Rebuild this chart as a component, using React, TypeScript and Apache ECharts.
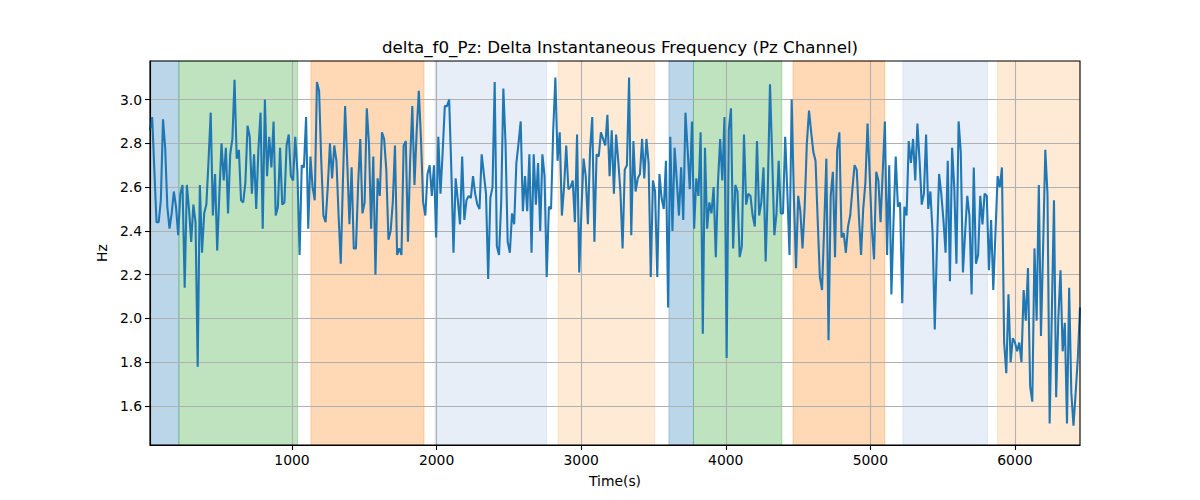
import React, { useEffect, useRef } from "react";
import * as echarts from "echarts";

const TITLE = "delta_f0_Pz: Delta Instantaneous Frequency (Pz Channel)";
const X_LABEL = "Time(s)";
const Y_LABEL = "Hz";

const T_START = 18;
const T_END = 6450;
const Y_MIN = 1.422;
const Y_MAX = 3.176;

const X_TICKS = [1000, 2000, 3000, 4000, 5000, 6000];
const Y_TICKS = [1.6, 1.8, 2.0, 2.2, 2.4, 2.6, 2.8, 3.0];

const VALUES_A = [
  2.86, 2.92, 2.68, 2.44, 2.44, 2.54, 2.91, 2.78, 2.51, 2.41, 2.48, 2.58, 2.51, 2.38, 2.57, 2.61, 2.14, 2.61, 2.5, 2.35,
  2.52, 2.44, 1.78, 2.61, 2.3, 2.48, 2.52, 2.72, 2.94, 2.47, 2.66, 2.31, 2.57, 2.8, 2.63, 2.78, 2.48, 2.75, 2.82, 3.09,
  2.73, 2.77, 2.54, 2.53, 2.62, 2.88, 2.83, 2.57, 2.75, 2.5, 2.77, 2.94, 2.41, 3.0, 2.65,
];
const VALUES_B = [
  2.83, 2.69, 2.9, 2.47, 2.51, 2.78, 2.52, 2.53, 2.79, 2.84, 2.65, 2.63, 2.83, 2.67, 2.29, 2.7, 2.69, 2.92, 2.41, 2.74,
  2.6, 2.54, 3.08, 3.04, 2.72, 2.47, 2.44, 2.6, 2.8, 2.64, 2.79, 2.72, 2.47, 2.25, 2.63, 2.97, 2.71, 2.43, 2.69, 2.32,
  2.32, 2.61, 2.82, 2.48, 2.53, 2.96, 2.8, 2.41, 2.74, 2.2, 2.64, 2.56, 2.85, 2.82,
];
const VALUES_C = [
  2.68, 2.36, 2.4, 2.53, 2.79, 2.29, 2.32, 2.29, 2.79, 2.81, 2.35, 2.72, 2.97, 2.61, 2.85, 3.04, 2.82, 2.53, 2.47, 2.66,
  2.7, 2.56, 2.7, 2.37, 2.83, 2.57, 2.76, 2.97, 2.97, 3.0, 2.68, 2.3, 2.64, 2.54, 2.43, 2.74, 2.45, 2.54, 2.56, 2.55,
  2.65, 2.57, 2.52, 2.5, 2.75, 2.66, 2.57, 2.18, 2.55, 2.6, 3.08, 2.33, 2.29,
];
const VALUES_D = [
  2.53, 3.05, 2.8, 2.35, 2.3, 2.48, 2.43, 2.71, 2.8, 2.9, 2.49, 2.65, 2.49, 2.75, 2.3, 2.75, 2.52, 2.71, 2.4, 2.75,
  2.65, 2.19, 2.51, 2.5, 2.86, 3.1, 2.72, 2.85, 2.47, 2.6, 2.79, 2.59, 2.6, 2.63, 2.44, 2.84, 2.21, 2.49, 2.73, 2.65,
  2.43, 2.77, 2.92, 2.35, 2.75, 2.74, 2.85, 2.82, 2.79, 2.93, 2.65, 2.86, 2.57, 2.84,
];
const VALUES_E = [
  2.72, 2.58, 2.32, 2.68, 2.7, 3.1, 2.38, 2.81, 2.58, 2.64, 2.66, 2.82, 2.64, 2.82, 2.71, 2.19, 2.63, 2.58, 2.19, 2.66,
  2.55, 2.5, 2.72, 2.05, 2.83, 2.4, 2.78, 2.63, 2.47, 2.69, 2.45, 2.94, 2.77, 2.59, 2.9, 2.41, 2.64, 2.56, 2.85, 1.93,
  2.78, 2.41, 2.53, 2.48, 2.6, 2.28, 2.62, 2.82, 2.63, 2.92, 1.82, 2.86, 2.96,
];
const VALUES_F = [
  2.32, 2.61, 2.58, 2.28, 2.33, 2.84, 2.52, 2.57, 2.56, 2.47, 2.42, 2.81, 2.47, 2.53, 2.69, 2.26, 2.6, 3.07, 2.74, 2.38,
  2.48, 2.72, 2.48, 2.48, 2.83, 2.58, 2.29, 3.0, 2.56, 2.23, 2.56, 2.49, 2.32, 2.51, 2.8, 2.95, 2.85, 2.76, 2.72, 2.45,
  2.19, 2.13, 2.42, 2.73, 1.9, 2.56, 2.67, 2.28, 2.77, 2.85, 2.37, 2.39, 2.3, 2.42,
];
const VALUES_G = [
  2.47, 2.59, 2.7, 2.68, 2.47, 2.29, 2.5, 2.62, 2.89, 2.65, 2.41, 2.27, 2.67, 2.63, 2.44, 2.67, 2.9, 2.29, 2.7, 2.11,
  2.45, 2.74, 2.51, 2.53, 2.07, 2.51, 2.47, 2.81, 2.71, 2.82, 2.63, 2.89, 2.72, 2.52, 2.57, 2.84, 2.5, 2.58, 2.39, 1.95,
  2.33, 2.66, 2.57, 2.45, 2.3, 2.72, 2.17, 2.78, 2.6, 2.25, 2.9, 2.76, 2.21,
];
const VALUES_H = [
  2.39, 2.56, 2.47, 2.11, 2.69, 2.25, 2.29, 2.56, 2.43, 2.57, 2.56, 2.22, 2.45, 2.13, 2.39, 2.65, 2.6, 2.69, 1.89, 1.75,
  2.11, 1.8, 1.91, 1.89, 1.85, 1.89, 1.8, 2.13, 1.99, 2.23, 1.69, 1.62, 2.32, 1.99, 2.61, 1.92, 2.33, 2.77, 2.57, 1.52,
  2.02, 2.54, 1.64, 2.0, 2.22, 1.85, 1.98, 1.52, 2.14, 1.66, 1.51, 1.66, 1.82, 2.05,
];

const VALUES = [
  ...VALUES_A, ...VALUES_B, ...VALUES_C, ...VALUES_D,
  ...VALUES_E, ...VALUES_F, ...VALUES_G, ...VALUES_H,
];

const BAND_STARTS = [18, 218, 1131, 1989, 2840, 3607, 3777, 4465, 5225, 5880];
const BAND_ENDS = [218, 1039, 1913, 2761, 3508, 3777, 4388, 5100, 5810, 6450];
const BAND_KINDS = ["blue", "green", "orange", "lightblue", "lightorange", "blue", "green", "orange", "lightblue", "lightorange"];

const BAND_RGB: Record<string, string> = {
  blue: "31,119,180",
  green: "44,160,44",
  orange: "255,127,14",
  lightblue: "174,199,232",
  lightorange: "255,187,120",
};

const FONT = "DejaVu Sans";

export default function App() {
  const ref = useRef<HTMLDivElement>(null);

  useEffect(() => {
    if (!ref.current) return;
    const chart = echarts.init(ref.current, null, { renderer: "svg" });
    const n = VALUES.length;
    const step = (T_END - T_START) / (n - 1);
    const lineData = VALUES.map((v, i) => [T_START + i * step, v]);

    const bandData = BAND_STARTS.map((s, i) => {
      const rgb = BAND_RGB[BAND_KINDS[i]];
      return [
        {
          xAxis: s,
          itemStyle: {
            color: `rgba(${rgb},0.3)`,
            borderColor: `rgba(${rgb},0.3)`,
            borderWidth: 1,
          },
        },
        { xAxis: BAND_ENDS[i] },
      ];
    });

    const tickLabelStyle = {
      color: "#000",
      fontFamily: FONT,
      fontSize: 13.9,
    };

    chart.setOption({
      animation: false,
      backgroundColor: "#fff",
      title: {
        text: TITLE,
        left: 615,
        top: 33,
        textAlign: "center",
        textStyle: {
          color: "#000",
          fontFamily: FONT,
          fontSize: 16.7,
          fontWeight: "normal",
        },
      },
      grid: {
        left: 150,
        right: 120,
        top: 61,
        bottom: 55,
        show: true,
        borderColor: "#000",
        borderWidth: 1.1,
        backgroundColor: "transparent",
        z: 10,
      },
      xAxis: {
        type: "value",
        min: T_START,
        max: T_END,
        z: 3,
        name: X_LABEL,
        nameLocation: "middle",
        nameGap: 29,
        nameTextStyle: { color: "#000", fontFamily: FONT, fontSize: 13.9 },
        axisLine: { show: true, onZero: false, lineStyle: { color: "#000", width: 1.1 } },
        axisTick: {
          show: true,
          length: 5,
          customValues: X_TICKS,
          lineStyle: { color: "#000", width: 1.1 },
        },
        axisLabel: {
          ...tickLabelStyle,
          margin: 8,
          customValues: X_TICKS,
          formatter: (v: number) => String(Math.round(v)),
        },
        splitLine: { show: true, lineStyle: { color: "#b0b0b0", width: 1.1 } },
      },
      yAxis: {
        type: "value",
        min: Y_MIN,
        max: Y_MAX,
        z: 3,
        name: Y_LABEL,
        nameLocation: "middle",
        nameGap: 35,
        nameRotate: 90,
        nameTextStyle: { color: "#000", fontFamily: FONT, fontSize: 13.9 },
        axisLine: { show: true, onZero: false, lineStyle: { color: "#000", width: 1.1 } },
        axisTick: {
          show: true,
          length: 5,
          customValues: Y_TICKS,
          lineStyle: { color: "#000", width: 1.1 },
        },
        axisLabel: {
          ...tickLabelStyle,
          margin: 8,
          customValues: Y_TICKS,
          formatter: (v: number) => v.toFixed(1),
        },
        splitLine: { show: true, lineStyle: { color: "#b0b0b0", width: 1.1 } },
      },
      series: [
        {
          type: "line",
          name: "bands",
          z: 1,
          data: [],
          silent: true,
          markArea: {
            silent: true,
            data: bandData,
          },
        },
        {
          type: "line",
          name: "delta_f0_Pz",
          z: 5,
          data: lineData,
          showSymbol: false,
          symbol: "none",
          clip: true,
          lineStyle: { color: "#1f77b4", width: 2.08 },
        },
      ],
    });

    return () => chart.dispose();
  }, []);

  return (
    <div
      ref={ref}
      style={{ position: "fixed", left: 0, top: 0, width: 1200, height: 500, background: "#fff" }}
    />
  );
}
